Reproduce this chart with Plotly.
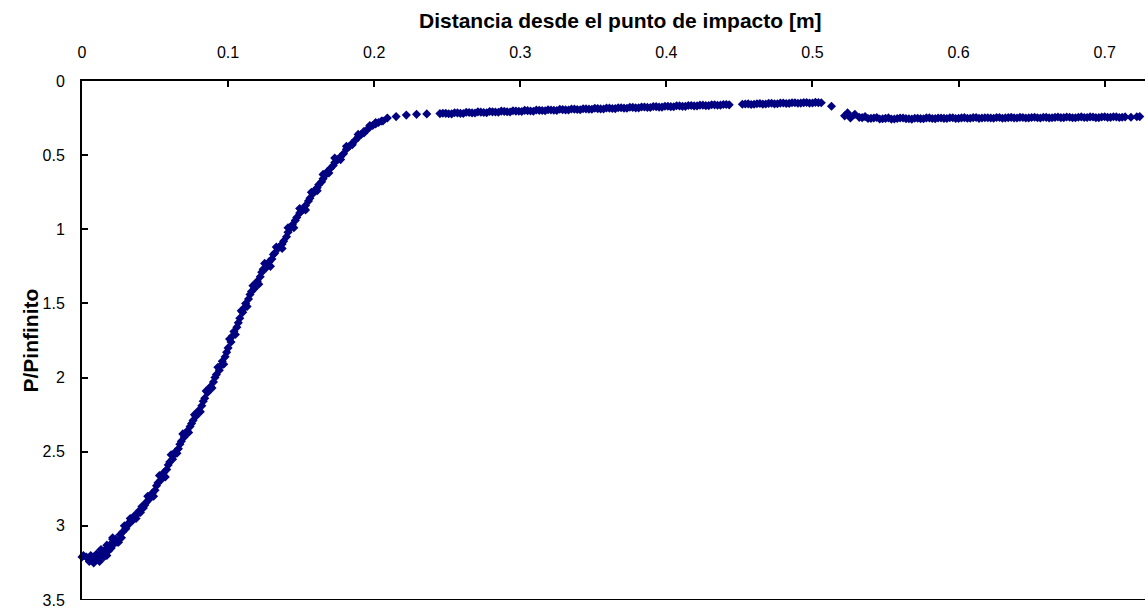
import plotly.graph_objects as go

# Rising part (distance [m], P/Pinfinito) - run A
x_rise = [0.000, 0.001, 0.003, 0.004, 0.006, 0.007, 0.008, 0.008, 0.010, 0.011,
          0.012, 0.012, 0.014, 0.015, 0.016, 0.017, 0.018, 0.019, 0.020, 0.021,
          0.022, 0.023, 0.024, 0.026, 0.027, 0.028, 0.030, 0.031, 0.032, 0.034,
          0.035, 0.036, 0.038, 0.039, 0.040, 0.042, 0.043, 0.044, 0.046, 0.047,
          0.048, 0.050, 0.051, 0.052, 0.054, 0.055, 0.056, 0.058, 0.059, 0.060,
          0.062, 0.063, 0.064, 0.066, 0.067, 0.068, 0.070, 0.071, 0.072, 0.074,
          0.075, 0.076, 0.078, 0.079, 0.080, 0.082, 0.083, 0.084, 0.086, 0.087,
          0.088, 0.090, 0.091, 0.092, 0.094, 0.095, 0.096, 0.098, 0.099, 0.100,
          0.102, 0.103, 0.104, 0.106, 0.107, 0.108, 0.110, 0.111, 0.112, 0.114,
          0.115, 0.116, 0.118, 0.119, 0.120, 0.122, 0.123, 0.124, 0.126, 0.127,
          0.128, 0.130, 0.131, 0.132, 0.134, 0.135, 0.137, 0.138, 0.140, 0.141,
          0.143, 0.144, 0.146, 0.147, 0.149, 0.150, 0.152, 0.153, 0.155, 0.156,
          0.158, 0.159, 0.161, 0.162, 0.164, 0.165, 0.167, 0.168, 0.170, 0.172,
          0.173, 0.175, 0.177, 0.179, 0.181, 0.183, 0.185, 0.187, 0.189, 0.191,
          0.193, 0.195, 0.197, 0.199, 0.201, 0.203, 0.205, 0.209, 0.215, 0.222,
          0.229, 0.236]
y_rise = [3.21, 3.20, 3.21, 3.22, 3.20, 3.23, 3.21, 3.25, 3.19, 3.22,
          3.20, 3.24, 3.18, 3.21, 3.16, 3.20, 3.17, 3.13, 3.15, 3.09,
          3.12, 3.09, 3.11, 3.06, 3.08, 3.04, 3.02, 3.00, 2.98, 2.97,
          2.95, 2.93, 2.92, 2.90, 2.91, 2.88, 2.86, 2.84, 2.82, 2.80,
          2.78, 2.76, 2.73, 2.71, 2.69, 2.66, 2.64, 2.62, 2.59, 2.57,
          2.55, 2.52, 2.50, 2.48, 2.45, 2.43, 2.40, 2.38, 2.36, 2.33,
          2.31, 2.29, 2.26, 2.24, 2.22, 2.19, 2.16, 2.14, 2.10, 2.08,
          2.06, 2.03, 2.00, 1.98, 1.95, 1.92, 1.89, 1.86, 1.83, 1.80,
          1.76, 1.72, 1.69, 1.66, 1.63, 1.60, 1.56, 1.53, 1.50, 1.47,
          1.44, 1.42, 1.40, 1.37, 1.35, 1.32, 1.29, 1.27, 1.26, 1.24,
          1.22, 1.20, 1.17, 1.16, 1.13, 1.12, 1.10, 1.08, 1.05, 1.02,
          0.99, 0.97, 0.94, 0.92, 0.89, 0.88, 0.86, 0.84, 0.81, 0.79,
          0.76, 0.74, 0.72, 0.70, 0.68, 0.66, 0.63, 0.61, 0.59, 0.57,
          0.55, 0.53, 0.51, 0.49, 0.46, 0.44, 0.42, 0.40, 0.38, 0.36,
          0.34, 0.33, 0.31, 0.30, 0.29, 0.28, 0.27, 0.25, 0.24, 0.23,
          0.225, 0.222]

# Rising part - run B
x_rise_b = [0.005, 0.009, 0.013, 0.017, 0.021, 0.025, 0.029, 0.033, 0.037, 0.041,
            0.045, 0.049, 0.053, 0.057, 0.061, 0.065, 0.069, 0.073, 0.077, 0.081,
            0.085, 0.089, 0.093, 0.097, 0.101, 0.105, 0.109, 0.113, 0.117, 0.121,
            0.125, 0.129, 0.133, 0.137, 0.141, 0.145, 0.149, 0.153, 0.157, 0.161,
            0.165, 0.169, 0.173, 0.177, 0.181, 0.185, 0.189, 0.193, 0.197, 0.201,
            0.206]
y_rise_b = [3.24, 3.22, 3.16, 3.13, 3.08, 3.11, 3.00, 2.95, 2.95, 2.87,
            2.80, 2.80, 2.66, 2.67, 2.52, 2.51, 2.38, 2.37, 2.25, 2.23,
            2.09, 2.07, 1.93, 1.91, 1.74, 1.71, 1.55, 1.52, 1.38, 1.37,
            1.23, 1.25, 1.12, 1.13, 0.99, 0.99, 0.86, 0.87, 0.75, 0.74,
            0.63, 0.62, 0.52, 0.53, 0.44, 0.43, 0.36, 0.35, 0.30, 0.28,
            0.27]

# First plateau - run A
x_plat1 = [0.245, 0.249, 0.253, 0.257, 0.261, 0.265, 0.269, 0.273, 0.277, 0.281,
           0.285, 0.289, 0.293, 0.297, 0.301, 0.305, 0.309, 0.313, 0.317, 0.321,
           0.325, 0.329, 0.333, 0.337, 0.341, 0.345, 0.349, 0.353, 0.357, 0.361,
           0.365, 0.369, 0.373, 0.377, 0.381, 0.385, 0.389, 0.393, 0.397, 0.401,
           0.405, 0.409, 0.413, 0.417, 0.421, 0.425, 0.429, 0.433, 0.437, 0.441,
           0.452, 0.456, 0.460, 0.464, 0.468, 0.472, 0.476, 0.480, 0.484, 0.488,
           0.492, 0.496, 0.500, 0.504, 0.513]
y_plat1 = [0.220, 0.218, 0.222, 0.215, 0.219, 0.212, 0.216, 0.210, 0.214, 0.208,
           0.211, 0.205, 0.209, 0.203, 0.206, 0.200, 0.204, 0.198, 0.201, 0.196,
           0.199, 0.193, 0.196, 0.190, 0.194, 0.188, 0.191, 0.186, 0.189, 0.183,
           0.186, 0.180, 0.184, 0.178, 0.181, 0.175, 0.179, 0.173, 0.176, 0.170,
           0.174, 0.168, 0.171, 0.165, 0.168, 0.163, 0.166, 0.161, 0.163, 0.158,
           0.157, 0.154, 0.157, 0.152, 0.155, 0.150, 0.153, 0.148, 0.151, 0.147,
           0.149, 0.145, 0.148, 0.146, 0.170]

# First plateau - run B
x_plat1_b = [0.247, 0.251, 0.255, 0.259, 0.263, 0.267, 0.271, 0.275, 0.279, 0.283,
             0.287, 0.291, 0.295, 0.299, 0.303, 0.307, 0.311, 0.315, 0.319, 0.323,
             0.327, 0.331, 0.335, 0.339, 0.343, 0.347, 0.351, 0.355, 0.359, 0.363,
             0.367, 0.371, 0.375, 0.379, 0.383, 0.387, 0.391, 0.395, 0.399, 0.403,
             0.407, 0.411, 0.415, 0.419, 0.423, 0.427, 0.431, 0.435, 0.439, 0.443,
             0.454, 0.458, 0.462, 0.466, 0.470, 0.474, 0.478, 0.482, 0.486, 0.490,
             0.494, 0.498, 0.502, 0.506]
y_plat1_b = [0.217, 0.221, 0.214, 0.218, 0.211, 0.215, 0.208, 0.212, 0.206, 0.209,
             0.203, 0.207, 0.201, 0.204, 0.198, 0.202, 0.196, 0.199, 0.194, 0.197,
             0.191, 0.195, 0.189, 0.192, 0.187, 0.190, 0.184, 0.188, 0.182, 0.185,
             0.180, 0.183, 0.177, 0.181, 0.175, 0.178, 0.172, 0.176, 0.170, 0.173,
             0.167, 0.171, 0.165, 0.168, 0.163, 0.166, 0.160, 0.164, 0.158, 0.161,
             0.155, 0.158, 0.153, 0.156, 0.151, 0.154, 0.149, 0.152, 0.147, 0.150,
             0.146, 0.149, 0.144, 0.147]

# Second plateau - run A
x_plat2 = [0.522, 0.524, 0.526, 0.529, 0.532, 0.536, 0.540, 0.544, 0.548, 0.552,
           0.556, 0.560, 0.564, 0.568, 0.572, 0.576, 0.580, 0.584, 0.588, 0.592,
           0.596, 0.600, 0.604, 0.608, 0.612, 0.616, 0.620, 0.624, 0.628, 0.632,
           0.636, 0.640, 0.644, 0.648, 0.652, 0.656, 0.660, 0.664, 0.668, 0.672,
           0.676, 0.680, 0.684, 0.688, 0.692, 0.696, 0.700, 0.704, 0.708, 0.712,
           0.724]
y_plat2 = [0.235, 0.215, 0.250, 0.225, 0.245, 0.240, 0.252, 0.246, 0.255, 0.249,
           0.256, 0.250, 0.254, 0.257, 0.251, 0.255, 0.249, 0.254, 0.250, 0.253,
           0.248, 0.252, 0.247, 0.251, 0.246, 0.250, 0.248, 0.251, 0.246, 0.249,
           0.245, 0.250, 0.246, 0.249, 0.244, 0.250, 0.245, 0.248, 0.243, 0.247,
           0.244, 0.248, 0.242, 0.246, 0.243, 0.247, 0.241, 0.245, 0.242, 0.244,
           0.240]

# Second plateau - run B
x_plat2_b = [0.534, 0.538, 0.542, 0.546, 0.550, 0.554, 0.558, 0.562, 0.566, 0.570,
             0.574, 0.578, 0.582, 0.586, 0.590, 0.594, 0.598, 0.602, 0.606, 0.610,
             0.614, 0.618, 0.622, 0.626, 0.630, 0.634, 0.638, 0.642, 0.646, 0.650,
             0.654, 0.658, 0.662, 0.666, 0.670, 0.674, 0.678, 0.682, 0.686, 0.690,
             0.694, 0.698, 0.702, 0.706, 0.710, 0.714, 0.718, 0.722]
y_plat2_b = [0.247, 0.253, 0.250, 0.256, 0.252, 0.257, 0.253, 0.250, 0.255, 0.251,
             0.254, 0.249, 0.253, 0.250, 0.252, 0.248, 0.253, 0.249, 0.251, 0.247,
             0.252, 0.248, 0.250, 0.246, 0.251, 0.247, 0.249, 0.245, 0.250, 0.246,
             0.248, 0.244, 0.249, 0.245, 0.247, 0.243, 0.248, 0.244, 0.246, 0.242,
             0.247, 0.243, 0.245, 0.241, 0.246, 0.242, 0.244, 0.241]

x_all = x_rise + x_rise_b + x_plat1 + x_plat1_b + x_plat2 + x_plat2_b
y_all = y_rise + y_rise_b + y_plat1 + y_plat1_b + y_plat2 + y_plat2_b

x_ticks = [0, 0.1, 0.2, 0.3, 0.4, 0.5, 0.6, 0.7]
y_ticks = [0, 0.5, 1, 1.5, 2, 2.5, 3, 3.5]

FONT = "Liberation Sans, Arial, sans-serif"

fig = go.Figure()
fig.add_trace(go.Scatter(
    x=x_all, y=y_all, mode="markers",
    marker=dict(symbol="diamond", size=7, color="#000080",
                line=dict(width=0)),
    showlegend=False, cliponaxis=False,
))

fig.update_layout(
    width=1145, height=613,
    margin=dict(l=82, r=0, t=81, b=13),
    paper_bgcolor="white", plot_bgcolor="white",
    font=dict(family=FONT, size=16, color="black"),
    xaxis=dict(
        side="top", range=[0, 0.7276], tickvals=x_ticks,
        ticktext=["0", "0.1", "0.2", "0.3", "0.4", "0.5", "0.6", "0.7"],
        ticks="inside", ticklen=6, tickwidth=2, tickcolor="black",
        showline=True, linewidth=2, linecolor="black",
        showgrid=False, zeroline=False,
        tickfont=dict(size=16), ticklabelstandoff=15,
    ),
    yaxis=dict(
        range=[3.5, 0], tickvals=y_ticks,
        ticktext=["0", "0.5", "1", "1.5", "2", "2.5", "3", "3.5"],
        ticks="inside", ticklen=6, tickwidth=2, tickcolor="black",
        showline=True, linewidth=2, linecolor="black",
        showgrid=False, zeroline=False,
        tickfont=dict(size=16), ticklabelstandoff=12,
    ),
    shapes=[dict(type="line", xref="paper", yref="y", x0=0, x1=1, y0=3.5, y1=3.5,
                 line=dict(color="black", width=2))],
    annotations=[
        dict(text="<b>Distancia desde el punto de impacto [m]</b>",
             xref="paper", yref="paper", x=0.507, y=1.1175,
             xanchor="center", yanchor="middle", showarrow=False,
             font=dict(size=21)),
        dict(text="<b>P/Pinfinito</b>", textangle=-90,
             xref="paper", yref="paper", x=-0.0489, y=0.5,
             xanchor="center", yanchor="middle", showarrow=False,
             font=dict(size=21)),
    ],
)

fig.write_html("out.html")
